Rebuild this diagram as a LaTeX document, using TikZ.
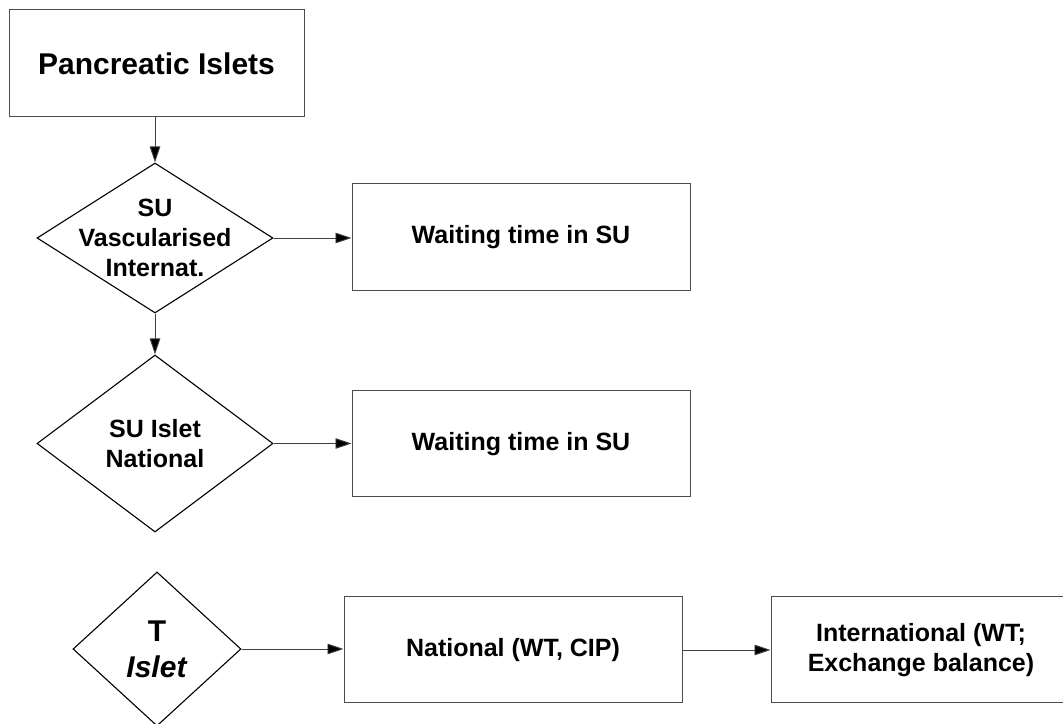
\documentclass[tikz,border=0pt]{standalone}
\usepackage{fontspec}
\setmainfont{Liberation Sans}
\usetikzlibrary{shapes.geometric,arrows.meta}
\tikzset{
  boxnode/.style={draw=black!70,line width=1pt,rectangle,inner sep=0pt,fill=white},
  dianode/.style={draw=black,line width=1.1pt,diamond,inner sep=0pt},
  lbl/.style={align=center,font=\bfseries\fontsize{25}{30}\selectfont,inner sep=0pt},
  conn/.style={draw=black!75,line width=0.9pt,-{Triangle[length=16pt,width=10.5pt,fill=black]}}
}
\begin{document}
\begin{tikzpicture}[x=1pt,y=1pt]
\useasboundingbox (0,0) rectangle (1063,723);
% boxes
\node[boxnode,minimum width=295pt,minimum height=107pt,font=\bfseries\fontsize{30}{36}\selectfont] (p0) at (156.5,659.5) {Pancreatic Islets};
\node[boxnode,minimum width=338pt,minimum height=107pt,lbl] (b1) at (521,485.5) {Waiting time in SU};
\node[boxnode,minimum width=338pt,minimum height=106pt,lbl] (b2) at (521,279) {Waiting time in SU};
\node[boxnode,minimum width=338pt,minimum height=106pt,lbl] (b3) at (513,73) {National (WT, CIP)};
\node[boxnode,minimum width=300pt,minimum height=106pt,lbl] (b4) at (921,73) {International (WT;\\Exchange balance)};
% diamonds
\node[dianode,minimum width=236pt,minimum height=150pt] (d1) at (155,485) {};
\node[lbl] (t1) at (d1.center) {SU\\Vascularised\\Internat.};
\node[dianode,minimum width=236pt,minimum height=177pt] (d2) at (155,279.5) {};
\node[lbl] (t2) at (d2.center) {SU Islet\\National};
\node[dianode,minimum width=168pt,minimum height=154pt] (d3) at (157,74) {};
\node[align=center,font=\bfseries\fontsize{30}{36}\selectfont,inner sep=0pt] (t3) at (d3.center) {T\\\textit{Islet}};
% connectors
\draw[conn] (p0.south -| d1.north) -- (d1.north);
\draw[conn] (d1.east) -- (d1.east -| b1.west);
\draw[conn] (d1.south) -- (d2.north);
\draw[conn] (d2.east) -- (d2.east -| b2.west);
\draw[conn] (d3.east) -- (d3.east -| b3.west);
\draw[conn] (b3.east) -- (b4.west);
\end{tikzpicture}
\end{document}
